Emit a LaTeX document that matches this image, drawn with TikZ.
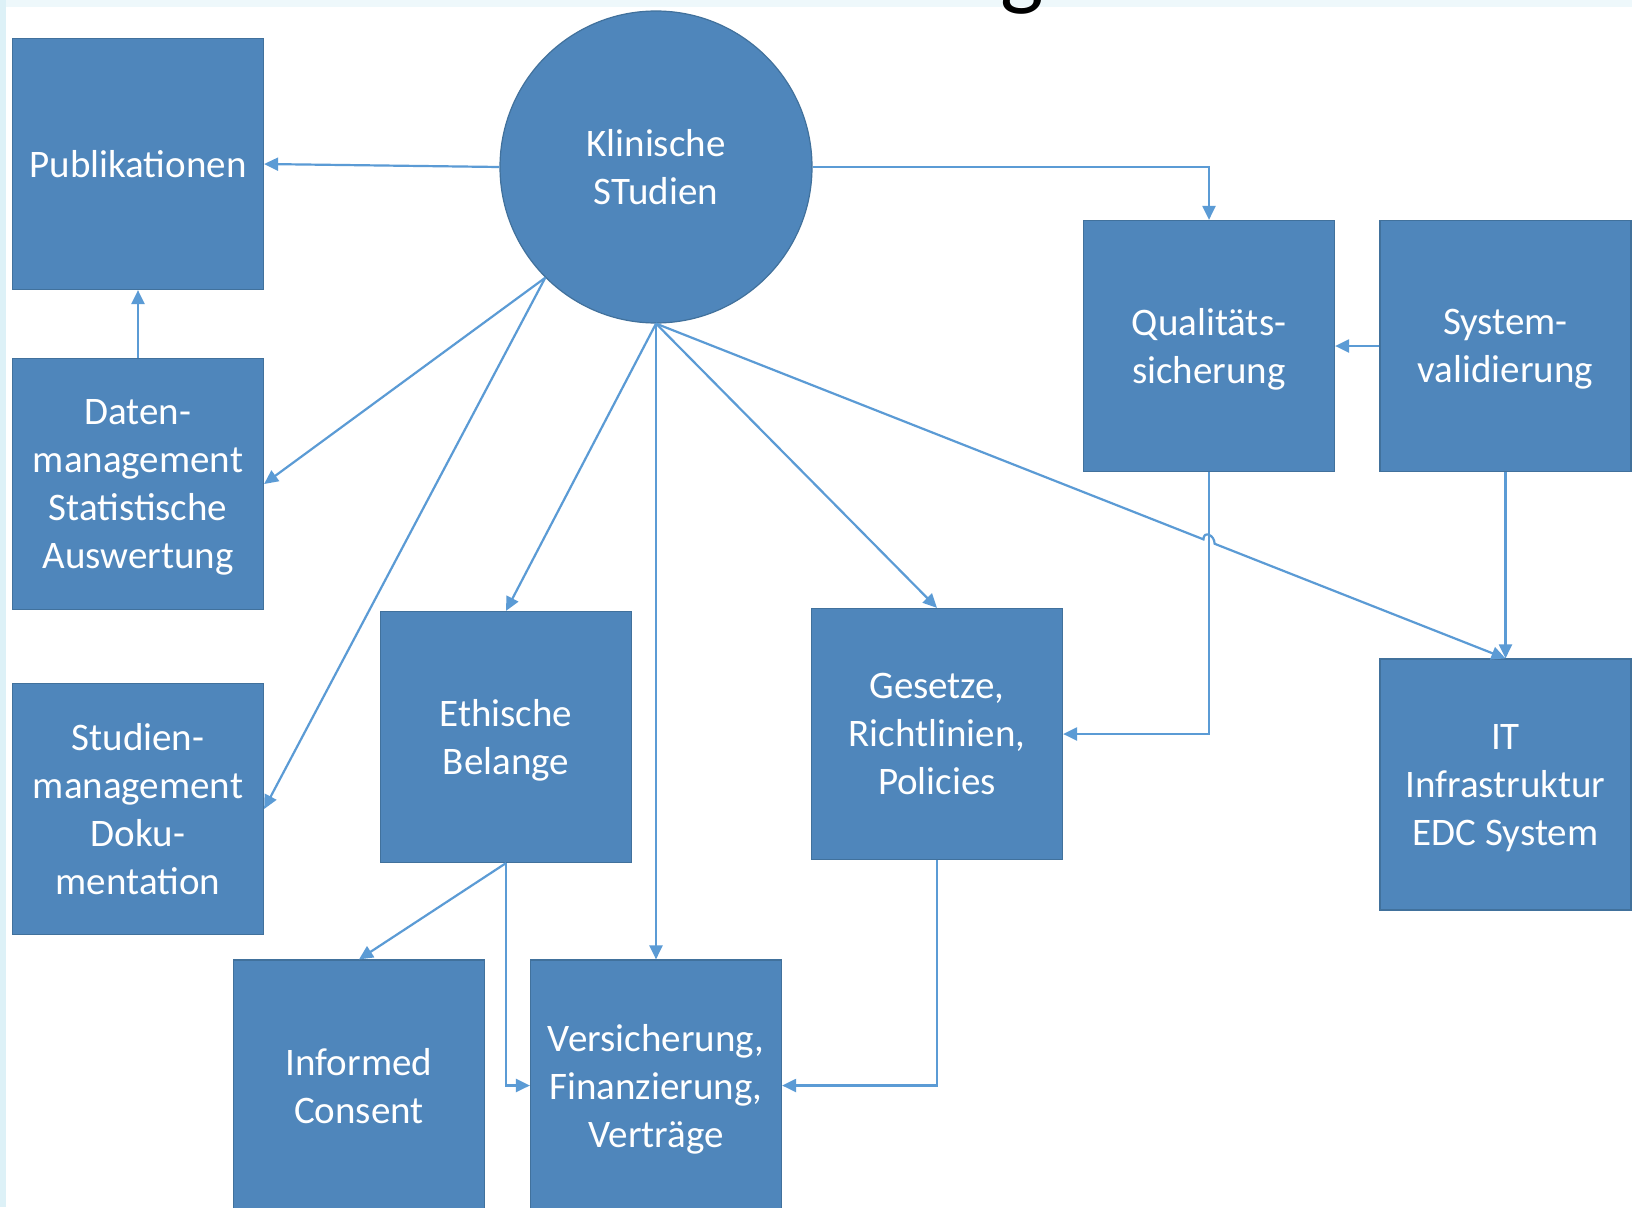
\documentclass[tikz,border=0pt]{standalone}
\usepackage{fontspec}
\setmainfont{Carlito}
\usetikzlibrary{arrows.meta,calc}
\definecolor{boxblue}{HTML}{4F86BB}
\definecolor{boxedge}{HTML}{41719C}
\definecolor{lineblue}{HTML}{5B9BD5}
\definecolor{stripcyan}{HTML}{EEF8FB}
\definecolor{leftcyan}{HTML}{DDF1F7}
\tikzset{
  box/.style={rectangle, fill=boxblue, draw=boxedge, line width=1.2pt,
    minimum width=251pt, minimum height=251pt, inner sep=0pt,
    text=white, align=center, text depth=0pt, font=\fontsize{39}{48}\selectfont},
  hub/.style={circle, fill=boxblue, draw=boxedge, line width=1.2pt,
    minimum size=312pt, inner sep=0pt,
    text=white, align=center, text depth=0pt, font=\fontsize{39}{48}\selectfont},
  conn/.style={draw=lineblue, line width=2.2pt, -{Triangle[length=14pt,width=13pt]}}
}
\begin{document}
\begin{tikzpicture}[x=1pt,y=-1pt]
\useasboundingbox (0,0) rectangle (1632,1207);
\clip (0,0) rectangle (1632,1207);
\fill[white] (0,0) rectangle (1632,1207);
\fill[stripcyan] (0,0) rectangle (1632,7);
\fill[leftcyan] (0,0) rectangle (6,1207);
\node[anchor=south, inner sep=0pt, text=black, font=\fontsize{92}{92}\selectfont] (title) at (1022,15) {g};

\node[hub] (c) at (656,167) {Klinische\\STudien};
\node[box] (pub) at (138,164) {Publikationen};
\node[box] (daten) at (138,484) {Daten-\\management\\Statistische\\Auswertung};
\node[box] (stud) at (138,809) {Studien-\\management\\Doku-\\mentation};
\node[box] (eth) at (506,737) {Ethische\\Belange};
\node[box] (ic) at (359,1085.5) {Informed\\Consent};
\node[box] (vers) at (656,1085.5) {Versicherung,\\Finanzierung,\\Verträge};
\node[box] (ges) at (937,734) {Gesetze,\\Richtlinien,\\Policies};
\node[box] (qual) at (1209,346) {Qualitäts-\\sicherung};
\node[box] (sys) at (1505.5,346) {System-\\validierung};
\node[box] (it) at (1505.5,784.5) {IT\\Infrastruktur\\EDC System};

\draw[conn] (c.west) -- (pub.east);
\draw[conn] (daten.north) -- (pub.south);
\draw[conn] (c.south west) -- (daten.east);
\draw[conn] (c.south west) -- (stud.east);
\draw[conn] (c.south) -- (eth.north);
\draw[conn] (c.south) -- (vers.north);
\draw[conn] (c.south) -- (ges.north);
\draw[conn] (c.east) -| (qual.north);
\draw[conn] (sys.west) -- (qual.east);
\draw[conn] (sys.south) -- (it.north);
\draw[conn] (qual.south) |- (ges.east);
\draw[conn] (eth.south) -- (ic.north);
\draw[conn] (eth.south) |- (vers.west);
\draw[conn] (ges.south) |- (vers.east);

\coordinate (hx) at ($(c.south)!0.651!(it.north)$);
\coordinate (h1) at ($(hx)!6pt!(c.south)$);
\coordinate (h2) at ($(hx)!6pt!(it.north)$);
\draw[conn] (c.south) -- (h1) .. controls ($(h1)+(0,-9)$) and ($(h2)+(0,-9)$) .. (h2) -- (it.north);
\end{tikzpicture}
\end{document}
